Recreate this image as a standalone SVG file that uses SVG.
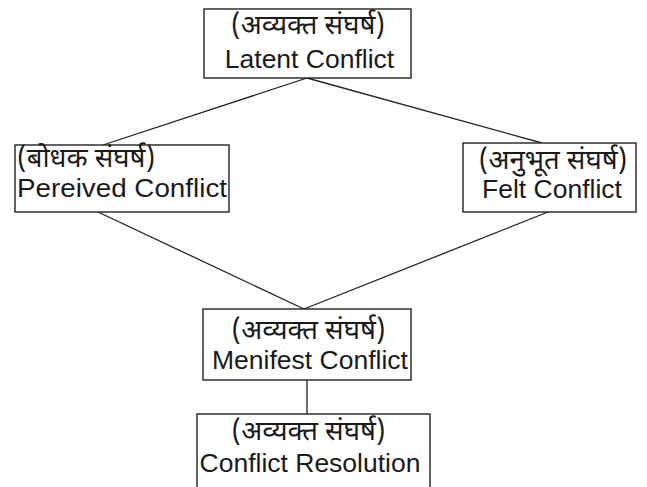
<svg xmlns="http://www.w3.org/2000/svg" width="647" height="487" viewBox="0 0 647 487">
<style>
.box{fill:#fff;stroke:#222;stroke-width:1.4}
.en{font-family:"Liberation Sans",Arial,sans-serif;font-size:26.5px;fill:#1a1a1a}
.hi{font-family:"Noto Sans Devanagari","Noto Sans","Liberation Sans",sans-serif;font-size:27.5px;fill:#1a1a1a}
.c{text-anchor:middle}
#connectors line{stroke:#222;stroke-width:1.3}
</style>
<rect width="647" height="487" fill="#fff"/>
<g id="connectors">
<line x1="307" y1="78" x2="103" y2="145"/>
<line x1="307" y1="78" x2="542" y2="143"/>
<line x1="98" y1="212" x2="304" y2="309"/>
<line x1="548" y1="212" x2="304" y2="309"/>
<line x1="307" y1="380" x2="307" y2="414"/>
</g>
<g id="latent">
<rect class="box" x="204" y="9" width="207" height="69"/>
<text class="hi c" x="308" y="34">(अव्यक्त संघर्ष)</text>
<text class="en c" x="309.5" y="68">Latent Conflict</text>
</g>
<g id="perceived">
<rect class="box" x="15" y="145" width="214" height="67"/>
<text class="hi" x="17" y="167">(बोधक संघर्ष)</text>
<text class="en" x="17" y="197" textLength="210" lengthAdjust="spacingAndGlyphs">Pereived Conflict</text>
</g>
<g id="felt">
<rect class="box" x="463" y="143" width="173" height="69"/>
<text class="hi c" x="553" y="169">(अनुभूत संघर्ष)</text>
<text class="en c" x="552" y="198">Felt Conflict</text>
</g>
<g id="manifest">
<rect class="box" x="203" y="309" width="208" height="71"/>
<text class="hi c" x="308.5" y="339">(अव्यक्त संघर्ष)</text>
<text class="en c" x="310" y="369">Menifest Conflict</text>
</g>
<g id="resolution">
<rect class="box" x="197" y="414" width="233" height="90"/>
<text class="hi c" x="308.5" y="440">(अव्यक्त संघर्ष)</text>
<text class="en c" x="310" y="472">Conflict Resolution</text>
</g>
</svg>
